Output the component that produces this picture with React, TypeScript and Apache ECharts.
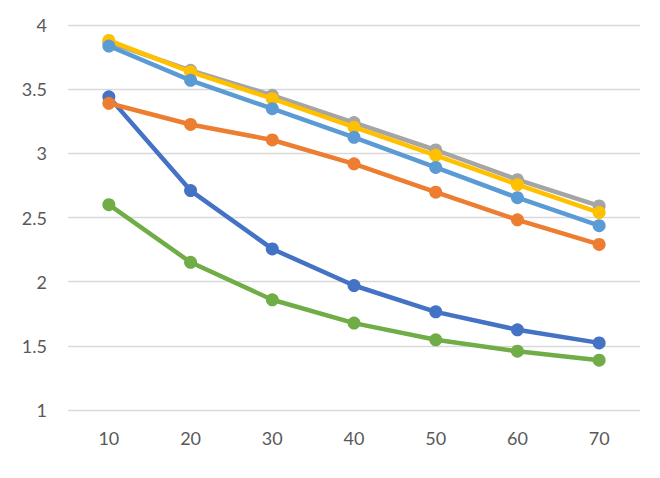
import React, { useEffect, useRef } from "react";
import * as echarts from "echarts";

const categories = ["10", "20", "30", "40", "50", "60", "70"];
const seriesDarkBlue = [3.44, 2.71, 2.255, 1.97, 1.765, 1.625, 1.523];
const seriesOrange = [3.39, 3.225, 3.104, 2.918, 2.697, 2.482, 2.29];
const seriesGray = [3.865, 3.647, 3.452, 3.24, 3.026, 2.795, 2.59];
const seriesYellow = [3.88, 3.634, 3.426, 3.204, 2.985, 2.756, 2.538];
const seriesLightBlue = [3.836, 3.569, 3.348, 3.125, 2.89, 2.654, 2.436];
const seriesGreen = [2.6, 2.151, 1.859, 1.677, 1.547, 1.458, 1.388];

const palette = ["#4472C4", "#ED7D31", "#A5A5A5", "#FFC000", "#5B9BD5", "#70AD47"];
const font = "Lato, 'Open Sans', sans-serif";

export default function App() {
  const ref = useRef<HTMLDivElement>(null);
  useEffect(() => {
    if (!ref.current) return;
    const chart = echarts.init(ref.current, undefined, { renderer: "svg" });
    const all = [seriesDarkBlue, seriesOrange, seriesGray, seriesYellow, seriesLightBlue, seriesGreen];
    chart.setOption({
      animation: false,
      backgroundColor: "#ffffff",
      textStyle: { fontFamily: font },
      grid: { left: 68, right: 20, top: 25, bottom: 68 },
      xAxis: {
        type: "category",
        data: categories,
        boundaryGap: true,
        axisLine: { show: false },
        axisTick: { show: false },
        axisLabel: { color: "#595959", fontSize: 18, margin: 19, fontFamily: font },
      },
      yAxis: {
        type: "value",
        min: 1,
        max: 4,
        interval: 0.5,
        axisLine: { show: false },
        axisTick: { show: false },
        axisLabel: { color: "#595959", fontSize: 18, margin: 21, fontFamily: font },
        splitLine: { lineStyle: { color: "#D9D9D9", width: 1.3 } },
      },
      series: all.map((d, i) => ({
        type: "line",
        data: d,
        symbol: "circle",
        symbolSize: 13,
        lineStyle: { width: 4.5, color: palette[i] },
        itemStyle: { color: palette[i] },
        z: 2 + i,
      })),
    });
    return () => chart.dispose();
  }, []);
  return <div ref={ref} style={{ position: "absolute", left: 0, top: 0, width: 660, height: 478 }} />;
}
